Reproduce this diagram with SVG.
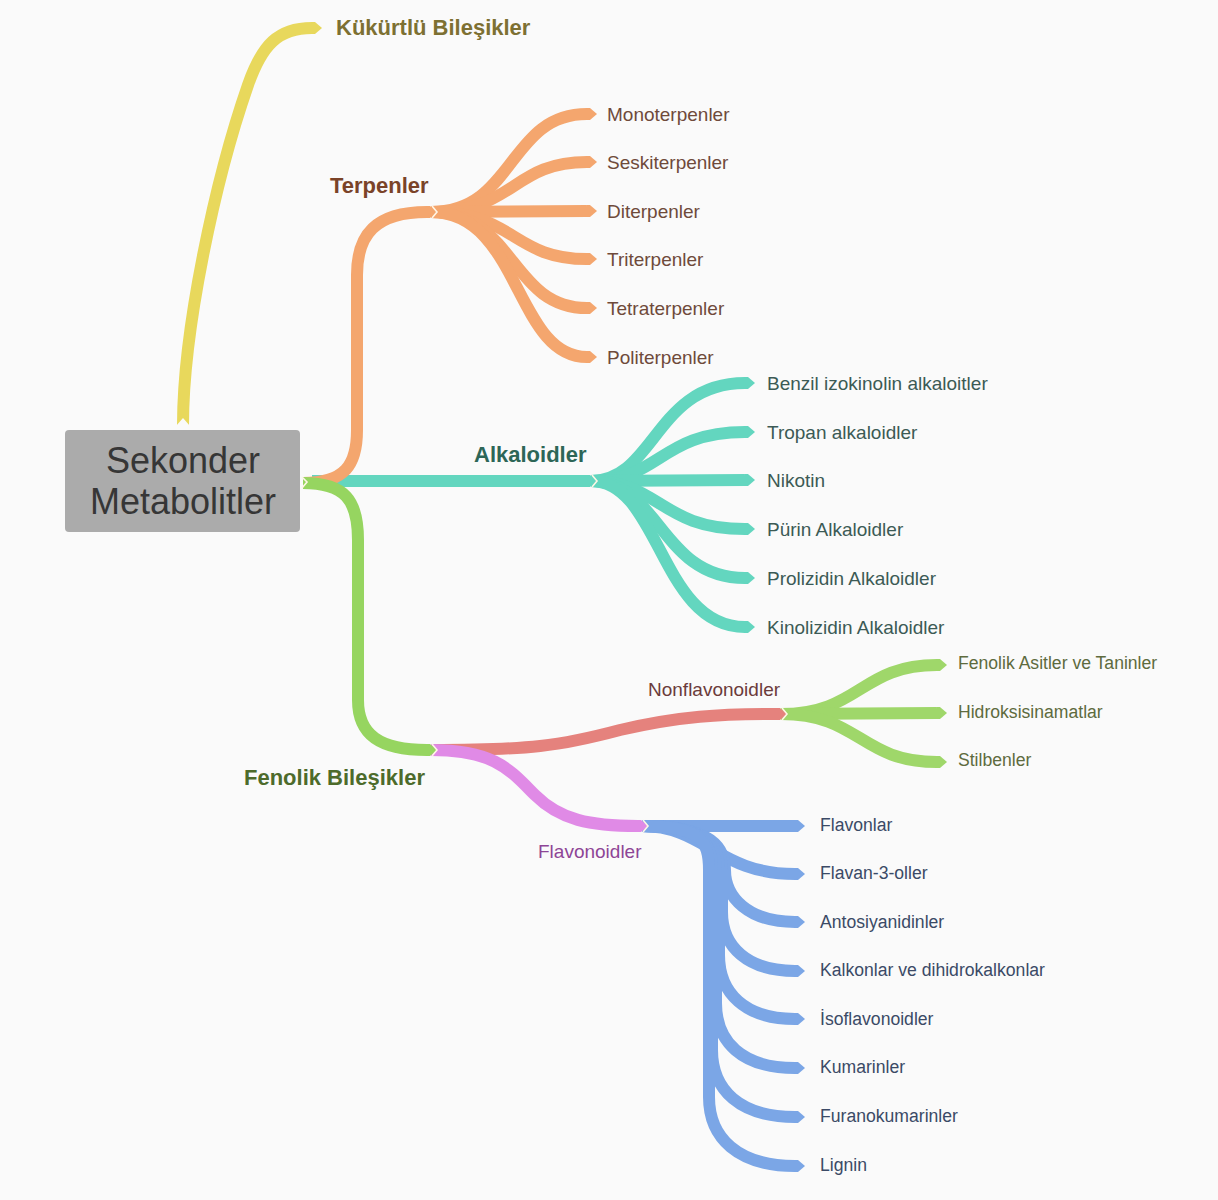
<svg xmlns="http://www.w3.org/2000/svg" width="1218" height="1200" viewBox="0 0 1218 1200">
<style>
.b{fill:none;stroke-width:12;stroke-linecap:butt}
.y{stroke:#e8d85c}.o{stroke:#f4a66e}.t{stroke:#63d6bf}.g{stroke:#96d560}.r{stroke:#e5827d}.v{stroke:#e08ae6}.bl{stroke:#7ba6e6}.lg{stroke:#9fd76a}
.notch{fill:none;stroke:#fff6e6;stroke-width:1.6}
text{font-family:"Liberation Sans",Arial,sans-serif}
.lb{font-size:22px;font-weight:bold}
.ls{font-size:19px}
.lm{font-size:17.6px}
</style>
<defs>
<marker id="my" markerUnits="userSpaceOnUse" markerWidth="12" markerHeight="14" refX="0" refY="7" orient="auto"><path d="M0,1 L3,1 L10,7 L3,13 L0,13Z" fill="#e8d85c"/></marker>
<marker id="mo" markerUnits="userSpaceOnUse" markerWidth="12" markerHeight="14" refX="0" refY="7" orient="auto"><path d="M0,1 L3,1 L10,7 L3,13 L0,13Z" fill="#f4a66e"/></marker>
<marker id="mt" markerUnits="userSpaceOnUse" markerWidth="12" markerHeight="14" refX="0" refY="7" orient="auto"><path d="M0,1 L3,1 L10,7 L3,13 L0,13Z" fill="#63d6bf"/></marker>
<marker id="mg" markerUnits="userSpaceOnUse" markerWidth="12" markerHeight="14" refX="0" refY="7" orient="auto"><path d="M0,1 L3,1 L10,7 L3,13 L0,13Z" fill="#96d560"/></marker>
<marker id="mr" markerUnits="userSpaceOnUse" markerWidth="12" markerHeight="14" refX="0" refY="7" orient="auto"><path d="M0,1 L3,1 L10,7 L3,13 L0,13Z" fill="#e5827d"/></marker>
<marker id="mv" markerUnits="userSpaceOnUse" markerWidth="12" markerHeight="14" refX="0" refY="7" orient="auto"><path d="M0,1 L3,1 L10,7 L3,13 L0,13Z" fill="#e08ae6"/></marker>
<marker id="mb" markerUnits="userSpaceOnUse" markerWidth="12" markerHeight="14" refX="0" refY="7" orient="auto"><path d="M0,1 L3,1 L10,7 L3,13 L0,13Z" fill="#7ba6e6"/></marker>
<marker id="ml" markerUnits="userSpaceOnUse" markerWidth="12" markerHeight="14" refX="0" refY="7" orient="auto"><path d="M0,1 L3,1 L10,7 L3,13 L0,13Z" fill="#9fd76a"/></marker>
</defs>
<rect width="1218" height="1200" fill="#fafafa"/>
<g id="connectors">
<path class="b o" marker-end="url(#mo)" d="M431,212 C515,212 508,114 587,114"/>
<path class="b o" marker-end="url(#mo)" d="M431,212 C515,212 512,162 587,162"/>
<path class="b o" marker-end="url(#mo)" d="M431,212 L587,211"/>
<path class="b o" marker-end="url(#mo)" d="M431,212 C515,212 512,259 587,259"/>
<path class="b o" marker-end="url(#mo)" d="M431,212 C515,212 510,308 587,308"/>
<path class="b o" marker-end="url(#mo)" d="M431,212 C520,212 515,357 587,357"/>
<path class="b t" marker-end="url(#mt)" d="M591,481 C655,481 655,383 745,383"/>
<path class="b t" marker-end="url(#mt)" d="M591,481 C660,481 660,432 745,432"/>
<path class="b t" marker-end="url(#mt)" d="M591,481 L745,480"/>
<path class="b t" marker-end="url(#mt)" d="M591,481 C660,481 660,529 745,529"/>
<path class="b t" marker-end="url(#mt)" d="M591,481 C660,481 660,578 745,578"/>
<path class="b t" marker-end="url(#mt)" d="M591,481 C660,481 660,627 745,627"/>
<path class="b lg" marker-end="url(#ml)" d="M781,714 C860,714 860,665 937,665"/>
<path class="b lg" marker-end="url(#ml)" d="M781,714 L937,713"/>
<path class="b lg" marker-end="url(#ml)" d="M781,714 C860,714 860,762 937,762"/>
<path class="b bl" marker-end="url(#mb)" d="M642,826 L795,826"/>
<path class="b bl" marker-end="url(#mb)" d="M642,826 C705,826 718,874 795,874"/>
<path class="b bl" marker-end="url(#mb)" d="M642,826 C700,826 725,840 725,870 C725,897 748,922 795,922"/>
<path class="b bl" marker-end="url(#mb)" d="M642,826 C700,826 722,840 722,870 L722,912 C722,947 748,971 795,971"/>
<path class="b bl" marker-end="url(#mb)" d="M642,826 C700,826 719,840 719,870 L719,955 C719,993 745,1019 795,1019"/>
<path class="b bl" marker-end="url(#mb)" d="M642,826 C700,826 716,840 716,870 L716,1003 C716,1042 742,1068 795,1068"/>
<path class="b bl" marker-end="url(#mb)" d="M642,826 C700,826 712,840 712,870 L712,1050 C712,1090 740,1117 795,1117"/>
<path class="b bl" marker-end="url(#mb)" d="M642,826 C700,826 709,840 709,870 L709,1097 C709,1138 738,1166 795,1166"/>
<path class="b r" marker-end="url(#mr)" d="M431,750 C530,750 560,746 620,730 C680,716 720,714 777,714"/>
<path class="b v" marker-end="url(#mv)" d="M431,750 C495,750 510,770 535,795 C560,820 590,826 638,826"/>
<path class="b y" marker-end="url(#my)" d="M183,425 C183,330 215,180 248,85 C262,45 278,28 312,28"/>
<path class="b t" marker-end="url(#mt)" d="M312,481 L587,481"/>
<path class="b o" marker-end="url(#mo)" d="M303,483 C345,483 357,465 357,430 L357,275 C357,235 375,212 427,212"/>
<path class="b g" marker-end="url(#mg)" d="M303,483 C345,483 358,500 358,540 L358,700 C358,735 380,750 427,750"/>
<polygon points="176,426 183,418 190,426" fill="#fafafa"/>
<polyline class="notch" points="302,477 307,482 302,488"/>
<polyline class="notch" points="432,206 437,212 432,218"/>
<polyline class="notch" points="592,475 597,481 592,487"/>
<polyline class="notch" points="432,744 437,750 432,756"/>
<polyline class="notch" points="782,708 787,714 782,720"/>
<polyline class="notch" points="643,820 648,826 643,832"/>
</g>
<g id="root">
<rect x="65" y="430" width="235" height="102" rx="4" fill="#ababab"/>
<text x="183" y="473" font-size="36" fill="#363636" text-anchor="middle">Sekonder</text>
<text x="183" y="514" font-size="36" fill="#363636" text-anchor="middle">Metabolitler</text>
</g>
<g id="kukurtlu"><text class="lb" x="336" y="35" fill="#7d7032">Kükürtlü Bileşikler</text></g>
<g id="terpenler"><text class="lb" x="330" y="193" fill="#7a4328">Terpenler</text></g>
<g id="alkaloidler"><text class="lb" x="474" y="462" fill="#2d6657">Alkaloidler</text></g>
<g id="fenolik"><text class="lb" x="244" y="785" fill="#4d6b2b">Fenolik Bileşikler</text></g>
<g id="nonflavonoidler"><text class="ls" x="648" y="696" fill="#6b3b3b">Nonflavonoidler</text></g>
<g id="flavonoidler"><text class="ls" x="538" y="858" fill="#8e4596">Flavonoidler</text></g>
<g id="terp-children">
<g id="n-mono"><text class="ls" x="607" y="121" fill="#6f4a3a">Monoterpenler</text></g>
<g id="n-seski"><text class="ls" x="607" y="169" fill="#6f4a3a">Seskiterpenler</text></g>
<g id="n-di"><text class="ls" x="607" y="218" fill="#6f4a3a">Diterpenler</text></g>
<g id="n-tri"><text class="ls" x="607" y="266" fill="#6f4a3a">Triterpenler</text></g>
<g id="n-tetra"><text class="ls" x="607" y="315" fill="#6f4a3a">Tetraterpenler</text></g>
<g id="n-poli"><text class="ls" x="607" y="364" fill="#6f4a3a">Politerpenler</text></g>
</g>
<g id="alk-children">
<g id="n-benzil"><text class="ls" x="767" y="390" fill="#3c5a55">Benzil izokinolin alkaloitler</text></g>
<g id="n-tropan"><text class="ls" x="767" y="439" fill="#3c5a55">Tropan alkaloidler</text></g>
<g id="n-nikotin"><text class="ls" x="767" y="487" fill="#3c5a55">Nikotin</text></g>
<g id="n-purin"><text class="ls" x="767" y="536" fill="#3c5a55">Pürin Alkaloidler</text></g>
<g id="n-proliz"><text class="ls" x="767" y="585" fill="#3c5a55">Prolizidin Alkaloidler</text></g>
<g id="n-kinoliz"><text class="ls" x="767" y="634" fill="#3c5a55">Kinolizidin Alkaloidler</text></g>
</g>
<g id="nonflav-children">
<g id="n-fenasit"><text class="lm" x="958" y="669" fill="#5e6b3e">Fenolik Asitler ve Taninler</text></g>
<g id="n-hidroks"><text class="lm" x="958" y="718" fill="#5e6b3e">Hidroksisinamatlar</text></g>
<g id="n-stilb"><text class="lm" x="958" y="766" fill="#5e6b3e">Stilbenler</text></g>
</g>
<g id="flav-children">
<g id="n-flavonlar"><text class="lm" x="820" y="831" fill="#3b4a66">Flavonlar</text></g>
<g id="n-flavan"><text class="lm" x="820" y="879" fill="#3b4a66">Flavan-3-oller</text></g>
<g id="n-antos"><text class="lm" x="820" y="928" fill="#3b4a66">Antosiyanidinler</text></g>
<g id="n-kalk"><text class="lm" x="820" y="976" fill="#3b4a66">Kalkonlar ve dihidrokalkonlar</text></g>
<g id="n-iso"><text class="lm" x="820" y="1025" fill="#3b4a66">İsoflavonoidler</text></g>
<g id="n-kum"><text class="lm" x="820" y="1073" fill="#3b4a66">Kumarinler</text></g>
<g id="n-furano"><text class="lm" x="820" y="1122" fill="#3b4a66">Furanokumarinler</text></g>
<g id="n-lignin"><text class="lm" x="820" y="1171" fill="#3b4a66">Lignin</text></g>
</g>
</svg>
